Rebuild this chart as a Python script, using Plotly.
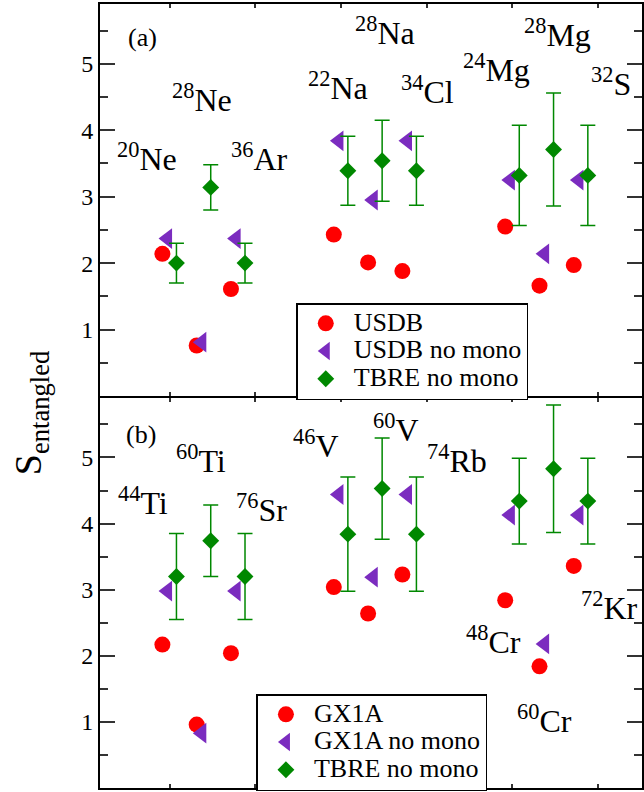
import plotly.graph_objects as go

# ---------------- data ----------------
# panel (a)
a_mass = ["20", "28", "36", "22", "28", "34", "24", "28", "32"]
a_elem = ["Ne", "Ne", "Ar", "Na", "Na", "Cl", "Mg", "Mg", "S"]
usdb = [2.14, 0.76, 1.61, 2.43, 2.01, 1.88, 2.55, 1.66, 1.97]
usdb_nomono = [2.37, 0.81, 2.37, 3.84, 2.95, 3.84, 3.25, 2.14, 3.25]
tbre_a = [2.00, 3.14, 2.00, 3.39, 3.54, 3.39, 3.32, 3.71, 3.32]
tbre_a_err = [0.30, 0.34, 0.30, 0.52, 0.61, 0.52, 0.755, 0.85, 0.755]

# panel (b)
b_mass = ["44", "60", "76", "46", "60", "74", "48", "60", "72"]
b_elem = ["Ti", "Ti", "Sr", "V", "V", "Rb", "Cr", "Cr", "Kr"]
gx1a = [2.17, 0.96, 2.04, 3.04, 2.64, 3.23, 2.84, 1.84, 3.36]
gx1a_nomono = [2.98, 0.83, 2.98, 4.44, 3.19, 4.44, 4.13, 2.18, 4.13]
tbre_b = [3.20, 3.74, 3.20, 3.84, 4.53, 3.84, 4.34, 4.83, 4.34]
tbre_b_err = [0.65, 0.54, 0.65, 0.865, 0.765, 0.865, 0.65, 0.965, 0.65]

# ---------------- layout constants ----------------
# nuclide slot positions: 3 groups of 3, gap between groups
slots = [g * 5 + j for g in range(3) for j in range(3)]
off_circle, off_tri, off_dia = -0.41, -0.26, 0.0

# label anchor positions (x slot units, y value units)
a_lab_x = [-0.85, 0.74, 2.42, 4.72, 6.08, 7.32, 9.33, 11.11, 12.68]
a_lab_y = [3.59, 4.49, 3.59, 4.66, 5.50, 4.60, 4.93, 5.47, 4.72]
b_lab_x = [-0.97, 0.71, 2.49, 4.06, 6.39, 8.18, 9.25, 10.75, 12.64]
b_lab_y = [4.34, 4.98, 4.23, 5.20, 5.44, 4.98, 2.24, 1.04, 2.76]

RED = "#ff0000"
PURPLE = "#7b2cbf"
GREEN = "#008800"
FONT = "Liberation Serif"

W, H = 644, 792
ML, MR, MT, MB = 100, 0, 4, 4
pw = W - ML - MR
ph = H - MT - MB
split = (788 - 397) / ph
gap = 1.0 / ph  # half of the shared 2px border

fig = go.Figure()


def leg_name(s):
    return '<span style="font-size:26px">%s</span>' % s


def add_panel(xa, ya, legend, v1, v2, v3, err, names):
    fig.add_trace(go.Scatter(
        x=[s + off_circle for s in slots], y=v1, mode="markers", name=leg_name(names[0]),
        xaxis=xa, yaxis=ya, legend=legend,
        marker=dict(symbol="circle", size=16, color=RED)))
    fig.add_trace(go.Scatter(
        x=[s + off_tri for s in slots], y=v2, mode="markers", name=leg_name(names[1]),
        xaxis=xa, yaxis=ya, legend=legend,
        marker=dict(symbol="triangle-left", size=18, color=PURPLE)))
    fig.add_trace(go.Scatter(
        x=[s + off_dia for s in slots], y=v3, mode="markers", name=leg_name(names[2]),
        xaxis=xa, yaxis=ya, legend=legend,
        error_y=dict(type="data", array=err, visible=True, color=GREEN,
                     thickness=1.5, width=7.5),
        marker=dict(symbol="diamond", size=13, color=GREEN)))


add_panel("x", "y", "legend", usdb, usdb_nomono, tbre_a, tbre_a_err,
          ["USDB", "USDB no mono", "TBRE no mono"])
add_panel("x2", "y2", "legend2", gx1a, gx1a_nomono, tbre_b, tbre_b_err,
          ["GX1A", "GX1A no mono", "TBRE no mono"])

xr = [-2.23, 13.58]
xcommon = dict(range=xr, showticklabels=False, ticks="inside", ticklen=4,
               tickwidth=1.5, tickcolor="#333", tick0=-0.2, dtick=2.5,
               showline=True, linewidth=2, linecolor="black", mirror="ticks",
               showgrid=False, zeroline=False)
ycommon = dict(range=[0, 5.9], tickvals=[1, 2, 3, 4, 5], ticks="inside",
               ticklen=15, tickwidth=1.5, tickcolor="#333",
               minor=dict(dtick=0.5, ticks="inside", ticklen=8, tickwidth=1.5,
                          tickcolor="#333"),
               showline=True, linewidth=2, linecolor="black", mirror="ticks",
               showgrid=False, zeroline=False,
               tickfont=dict(family=FONT, size=24, color="black"))

annotations = []
LBL = dict(family=FONT, size=32, color="black")
for i in range(9):
    annotations.append(dict(
        x=a_lab_x[i], y=a_lab_y[i], xref="x", yref="y",
        text="<sup>%s</sup>%s" % (a_mass[i], a_elem[i]),
        showarrow=False, font=LBL, xanchor="center", yanchor="middle"))
    annotations.append(dict(
        x=b_lab_x[i], y=b_lab_y[i], xref="x2", yref="y2",
        text="<sup>%s</sup>%s" % (b_mass[i], b_elem[i]),
        showarrow=False, font=LBL, xanchor="center", yanchor="middle"))

annotations.append(dict(x=-1.0, y=5.39, xref="x", yref="y", text="(a)",
                        showarrow=False, font=dict(family=FONT, size=26, color="black"),
                        xanchor="center", yanchor="middle"))
annotations.append(dict(x=-1.03, y=5.35, xref="x2", yref="y2", text="(b)",
                        showarrow=False, font=dict(family=FONT, size=26, color="black"),
                        xanchor="center", yanchor="middle"))

annotations.append(dict(x=(31 - ML) / pw, y=(788 - 413) / ph, xref="paper", yref="paper",
                        text="S<sub>entangled</sub>", textangle=-90, showarrow=False,
                        font=dict(family=FONT, size=38, color="black"),
                        xanchor="center", yanchor="middle"))

legcommon = dict(font=dict(family=FONT, size=19, color="black"),
                 bgcolor="white", bordercolor="black", borderwidth=1.5,
                 xanchor="left", yanchor="top", itemwidth=46,
                 tracegroupgap=0)

fig.update_layout(
    width=W, height=H,
    margin=dict(l=ML, r=MR, t=MT, b=MB, pad=0),
    paper_bgcolor="white", plot_bgcolor="white",
    xaxis=dict(domain=[0, 1], anchor="y", **xcommon),
    yaxis=dict(domain=[split + gap, 1], anchor="x", **ycommon),
    xaxis2=dict(domain=[0, 1], anchor="y2", **xcommon),
    yaxis2=dict(domain=[0, split - gap], anchor="x2", **ycommon),
    legend=dict(x=(297 - ML) / pw, y=(788 - 303) / ph, **legcommon),
    legend2=dict(x=(257 - ML) / pw, y=(788 - 694) / ph, **legcommon),
    annotations=annotations,
    showlegend=True,
)

fig.write_html(
    "out.html",
    config={"displayModeBar": False},
    post_script="document.body.style.margin='0';document.body.style.overflow='hidden';",
)
